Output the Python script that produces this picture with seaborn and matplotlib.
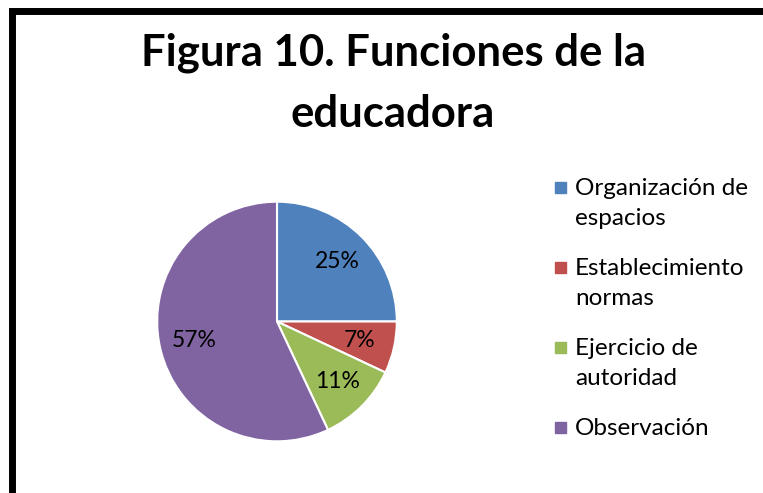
import matplotlib.pyplot as plt
from matplotlib.patches import Rectangle
import seaborn as sns

# === Datos ===
categorias = ["Organización de\nespacios", "Establecimiento\nnormas",
              "Ejercicio de\nautoridad", "Observación"]
porcentajes = [25, 7, 11, 57]
colores = ["#4F81BD", "#C0504D", "#9BBB59", "#8064A2"]
titulo = "Figura 10. Funciones de la\neducadora"

sns.set_theme(style="white")
plt.rcParams['font.family'] = ['Lato', 'DejaVu Sans']

W, H = 763, 493
fig = plt.figure(figsize=(W / 100, H / 100), dpi=100)
fig.patch.set_facecolor("white")

# === Pastel ===
cx, cy, r = 277, 321.5, 121
ax = fig.add_axes([(cx - r) / W, 1 - (cy + r) / H, 2 * r / W, 2 * r / H])
wedges, texts, autotexts = ax.pie(
    porcentajes, colors=colores, startangle=90, counterclock=False,
    autopct=lambda p: f"{p:.0f}%", pctdistance=0.71,
    wedgeprops=dict(edgecolor="white", linewidth=1.5),
    textprops=dict(fontsize=16.5, color="black"))
ax.set_xlim(-1.01, 1.01)
ax.set_ylim(-1.01, 1.01)
ax.axis("off")

# === Titulo (va="baseline" se aplica a la ultima linea) ===
fig.text(393 / W, 1 - 127 / H, titulo, ha="center", va="baseline",
         fontsize=31.4, fontweight="bold", linespacing=1.64, color="black")

# === Leyenda ===
for i, (lab, col) in enumerate(zip(categorias, colores)):
    base = 195 + 80 * i
    ult = base + 30 * lab.count("\n")
    fig.add_artist(Rectangle((555 / W, 1 - (base - 2) / H), 11 / W, 11 / H,
                             transform=fig.transFigure, color=col))
    fig.text(575 / W, 1 - ult / H, lab, ha="left", va="baseline",
             fontsize=17.5, linespacing=1.55, color="black")

# === Marco ===
fig.add_artist(Rectangle((11.5 / W, -0.1), 1.2, 1.1 - 11.5 / H,
                         transform=fig.transFigure, fill=False,
                         edgecolor="black", linewidth=5, clip_on=False))

fig.savefig("out.png", dpi=100)
